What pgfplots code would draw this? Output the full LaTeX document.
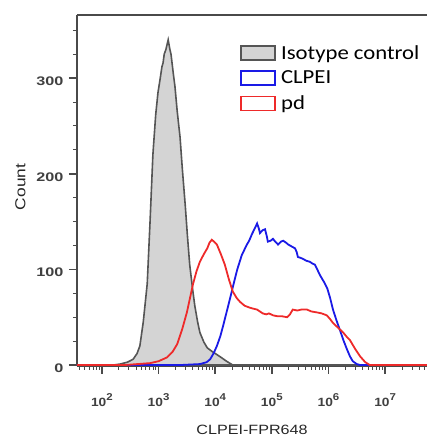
\documentclass[border=0pt]{standalone}
\usepackage{fontspec}
\setmainfont{Liberation Sans}
\newfontfamily\legfont[FakeStretch=1.14]{Carlito}
\newfontfamily\labfont[FakeStretch=1.2]{Liberation Sans}
\usepackage{pgfplots}
\pgfplotsset{compat=1.18}
\newcommand{\tenp}[1]{\scalebox{1.15}[1]{\bfseries\fontsize{12}{14}\selectfont 10\raisebox{0.5em}{\fontsize{10}{10}\selectfont #1}}}
\newcommand{\yl}[1]{\scalebox{1.3}[1]{\bfseries\fontsize{12.5}{14}\selectfont #1}}
\definecolor{axgray}{HTML}{4A4A4A}
\definecolor{isofill}{HTML}{D4D4D4}
\definecolor{isoline}{HTML}{555555}
\definecolor{clblue}{HTML}{1A1AE6}
\definecolor{pdred}{HTML}{EE2A2A}
\begin{document}
\begin{tikzpicture}
\begin{axis}[
  scale only axis, width=350bp, height=351bp,
  xmin=1.56, xmax=7.74, ymin=-1, ymax=366,
  clip=false,
  axis x line*=bottom, axis y line*=left,
  axis line style={axgray, line width=1.2bp, -},
  xtick={2,3,4,5,6,7},
  xticklabels={\tenp{2},\tenp{3},\tenp{4},\tenp{5},\tenp{6},\tenp{7}},
  minor xtick={1.602,1.699,1.778,1.845,1.903,1.954,
    2.301,2.477,2.602,2.699,2.778,2.845,2.903,2.954,
    3.301,3.477,3.602,3.699,3.778,3.845,3.903,3.954,
    4.301,4.477,4.602,4.699,4.778,4.845,4.903,4.954,
    5.301,5.477,5.602,5.699,5.778,5.845,5.903,5.954,
    6.301,6.477,6.602,6.699,6.778,6.845,6.903,6.954,
    7.301,7.477,7.602,7.699},
  ytick={0,100,200,300},
  yticklabels={\yl{0},\yl{100},\yl{200},\yl{300}},
  minor ytick={25,50,75,125,150,175,225,250,275,325,350},
  tick align=outside,
  major tick length=8bp, minor tick length=4bp,
  every tick/.style={axgray},
  every major tick/.append style={line width=1.8bp},
  every minor tick/.append style={line width=1bp},
  every tick label/.append style={text=black!75},
  xticklabel style={yshift=-16bp},
  yticklabel style={yshift=-3bp, xshift=-2bp},
  xlabel={\labfont\fontsize{13.5}{16}\selectfont CLPEI-FPR648},
  ylabel={\labfont\fontsize{14.5}{16}\selectfont Count},
  label style={text=black!85},
  x label style={at={(axis description cs:0.5,-0.183)}, anchor=center},
  y label style={at={(axis description cs:-0.162,0.51)}, anchor=center},
  legend style={draw=none, fill=none, at={(rel axis cs:0.466,0.915)}, anchor=north west,
    font=\legfont\fontsize{20}{24}\selectfont, inner sep=0pt, row sep=9.5bp,
    nodes={inner xsep=5bp, inner ysep=0pt}},
  legend cell align=left,
  legend image code/.code={\draw[#1, line width=1.8bp] (0bp,-7bp) rectangle (34bp,7bp);},
]
\addplot[draw=isoline, fill=isofill, line width=1.6bp] coordinates {
(1.56,0)(2.20,0)(2.32,1)(2.45,3)(2.55,6)(2.62,12)(2.67,20)(2.73,45)(2.80,85)(2.85,150)
(2.90,220)(2.95,262)(2.99,285)(3.03,300)(3.06,312)(3.08,316)(3.10,325)(3.13,330)(3.17,340)
(3.20,330)(3.22,325)(3.26,305)(3.29,291)(3.33,265)(3.38,238)(3.42,205)(3.47,168)(3.51,135)
(3.55,105)(3.60,80)(3.64,62)(3.69,45)(3.73,34)(3.80,24)(3.86,18)(3.95,14)(4.08,9)(4.20,4)
(4.31,0)(7.74,0)} \closedcycle;
\addlegendentry{Isotype control}
\addplot[draw=clblue, line width=1.8bp] coordinates {
(1.56,0)(3.38,0)(3.73,1)(3.85,3)(3.91,6)(3.97,12)(4.03,20)(4.09,30)(4.14,41)(4.20,55)
(4.26,69)(4.33,86)(4.39,100)(4.47,115)(4.56,126)(4.60,130)(4.65,137)(4.70,143)(4.74,148)
(4.77,143)(4.79,138)(4.84,141)(4.88,142)(4.91,135)(4.93,129)(4.98,130)(5.02,132)(5.06,129)
(5.11,126)(5.16,129)(5.20,130)(5.25,128)(5.29,126)(5.35,124)(5.41,122)(5.44,118)(5.46,113)
(5.51,112)(5.55,111)(5.61,109)(5.67,108)(5.72,106)(5.76,105)(5.81,99)(5.85,94)(5.92,87)
(5.98,80)(6.03,70)(6.08,58)(6.14,47)(6.20,37)(6.27,25)(6.33,16)(6.38,9)(6.43,4)(6.50,1)
(6.56,0)(7.74,0)};
\addlegendentry{CLPEI}
\addplot[draw=pdred, line width=1.8bp] coordinates {
(1.56,0)(2.40,0)(2.85,2)(3.00,4)(3.15,8)(3.25,14)(3.33,22)(3.42,38)(3.50,55)(3.61,85)
(3.67,98)(3.73,108)(3.80,116)(3.86,122)(3.90,128)(3.94,131)(3.98,129)(4.03,126)(4.10,116)
(4.17,105)(4.24,90)(4.31,77)(4.38,70)(4.44,66)(4.52,62)(4.61,60)(4.67,59)(4.74,58)(4.79,56)
(4.84,54)(4.90,53)(4.95,54)(5.02,52)(5.10,51)(5.18,51)(5.27,50)(5.32,53)(5.37,58)(5.45,57)
(5.52,58)(5.62,58)(5.70,56)(5.80,55)(5.88,54)(5.97,52)(6.03,48)(6.08,44)(6.17,39)(6.26,34)
(6.33,29)(6.38,26)(6.47,17)(6.56,9)(6.65,3)(6.73,0)(7.74,0)};
\addlegendentry{pd}
\draw[axgray, line width=1.2bp] (rel axis cs:0,1) -- (rel axis cs:1,1);
\end{axis}
\path (current axis.south west) ++(-77bp,-75bp) coordinate (bbA);
\path (current axis.north east) ++(0bp,15bp) coordinate (bbB);
\pgfresetboundingbox
\path[use as bounding box] (bbA) rectangle (bbB);
\end{tikzpicture}
\end{document}
